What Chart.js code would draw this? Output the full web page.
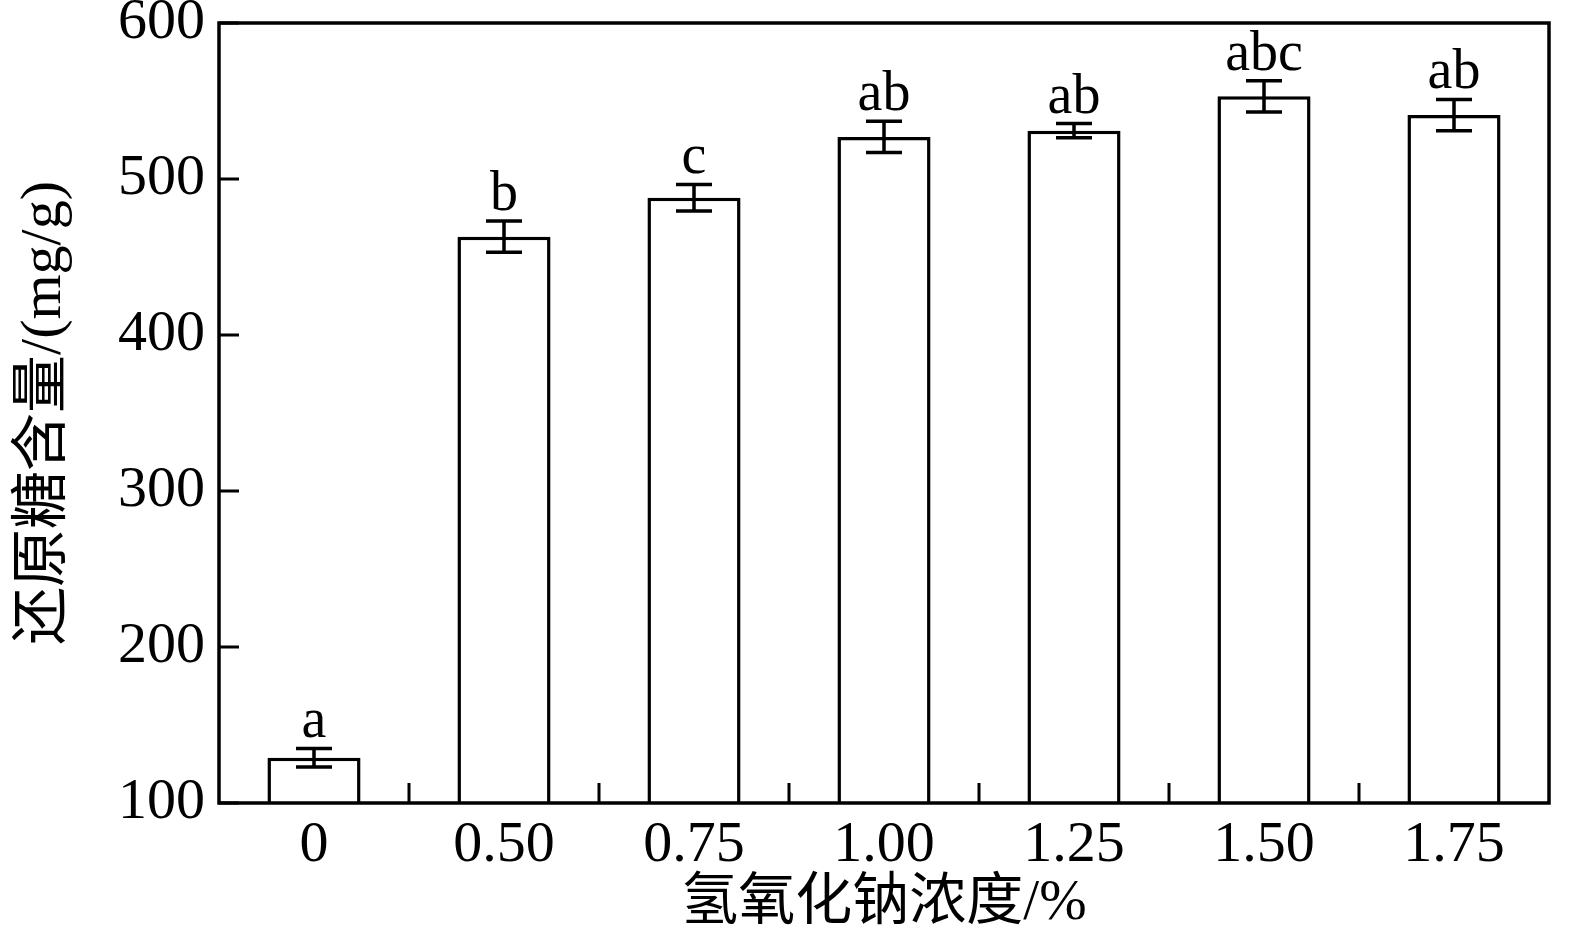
<!DOCTYPE html>
<html>
<head>
<meta charset="utf-8">
<script src="https://cdn.jsdelivr.net/npm/chart.js@4.4.0/dist/chart.umd.min.js"></script>
<style>
  html,body{margin:0;padding:0;background:#fff}
  #wrap{width:1576px;height:946px;position:relative}
</style>
</head>
<body>
<div id="wrap"><canvas id="c"></canvas></div>
<script>
const categories = ['0','0.50','0.75','1.00','1.25','1.50','1.75'];
const sugar      = [129, 463, 488, 527, 531, 553, 541];
const sugarErr   = [6, 10, 8.5, 10, 4.5, 10, 10];
const letters    = ['a','b','c','ab','ab','abc','ab'];
const yTicks     = [100, 200, 300, 400, 500, 600];

const SERIF = "'Liberation Serif','Times New Roman','Noto Sans CJK SC',serif";

// error bars, letters, inward ticks and frame
const decor = {
  id:'decor',
  afterDatasetsDraw(chart){
    const {ctx, chartArea:a, scales:{x,y}} = chart;
    const meta = chart.getDatasetMeta(0);
    ctx.save();
    ctx.strokeStyle = '#000';
    ctx.lineWidth = 3.5;
    ctx.lineCap = 'butt';
    meta.data.forEach((bar,i)=>{
      const cx = bar.x;
      const hi = y.getPixelForValue(sugar[i]+sugarErr[i]);
      const lo = y.getPixelForValue(sugar[i]-sugarErr[i]);
      ctx.beginPath();
      ctx.moveTo(cx,hi); ctx.lineTo(cx,lo);
      ctx.moveTo(cx-18,hi); ctx.lineTo(cx+18,hi);
      ctx.moveTo(cx-18,lo); ctx.lineTo(cx+18,lo);
      ctx.stroke();
      ctx.fillStyle = '#000';
      ctx.font = `56px ${SERIF}`;
      ctx.textAlign = 'center';
      ctx.textBaseline = 'alphabetic';
      ctx.fillText(letters[i], cx, hi-11);
    });
    // inward ticks
    ctx.lineWidth = 3;
    ctx.beginPath();
    yTicks.forEach(v=>{
      const py = y.getPixelForValue(v);
      ctx.moveTo(a.left, py); ctx.lineTo(a.left+20, py);
    });
    for(let i=0;i<categories.length-1;i++){
      const px = (x.getPixelForValue(i)+x.getPixelForValue(i+1))/2;
      ctx.moveTo(px, a.bottom); ctx.lineTo(px, a.bottom-20);
    }
    ctx.stroke();
    // frame
    ctx.lineWidth = 3.5;
    ctx.strokeRect(a.left, a.top, a.right-a.left, a.bottom-a.top);
    ctx.restore();
  }
};

new Chart(document.getElementById('c'), {
  type:'bar',
  data:{
    labels:categories,
    datasets:[{
      data:sugar,
      backgroundColor:'#fff',
      borderColor:'#000',
      borderWidth:3.5,
      borderSkipped:'bottom',
      barPercentage:0.49,
      categoryPercentage:1
    }]
  },
  options:{
    responsive:true, maintainAspectRatio:false, animation:false,
    layout:{ padding:{ left:0, top:23, right:27, bottom:0 } },
    plugins:{ legend:{display:false}, tooltip:{enabled:false} },
    scales:{
      x:{
        grid:{ display:false },
        border:{ display:false },
        ticks:{ font:{ family:SERIF, size:58 }, color:'#000', padding:0 },
        title:{ display:true, text:'氢氧化钠浓度/%', font:{ family:SERIF, size:57 }, color:'#000', padding:{top:0,bottom:8} },
        afterFit(s){ s.height = 143; s.paddingLeft = 0; s.paddingRight = 0; }
      },
      y:{
        min:100, max:600,
        grid:{ display:false },
        border:{ display:false },
        afterBuildTicks(s){ s.ticks = yTicks.map(v=>({value:v})); },
        ticks:{ font:{ family:SERIF, size:58 }, color:'#000', padding:6 },
        title:{ display:true, text:'还原糖含量/(mg/g)', font:{ family:SERIF, size:58 }, color:'#000', padding:{top:10,bottom:0} },
        afterFit(s){ s.width = 219; s.paddingTop = 0; s.paddingBottom = 0; }
      }
    }
  },
  plugins:[decor]
});
</script>
</body>
</html>
